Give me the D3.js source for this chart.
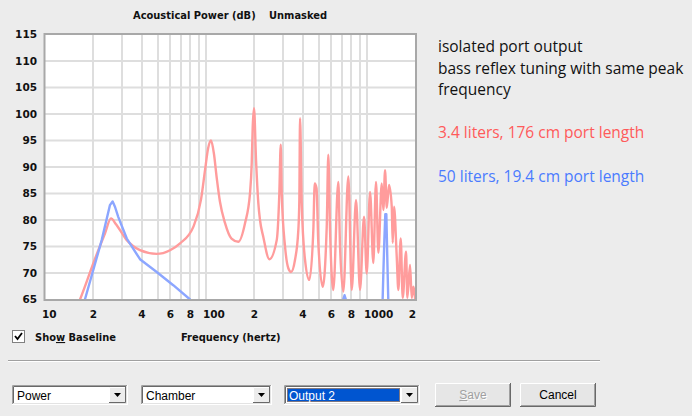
<!DOCTYPE html>
<html><head><meta charset="utf-8">
<script src="https://cdn.jsdelivr.net/npm/d3@7"></script>
<style>
html,body{margin:0;padding:0;background:#ececec;}
svg{display:block;}
.tk{font-family:"DejaVu Sans";font-weight:bold;font-size:10.5px;fill:#111;}
.lb{font-family:"DejaVu Sans Condensed","DejaVu Sans";font-stretch:condensed;font-weight:bold;font-size:11px;fill:#111;}
.lg{font-family:"Open Sans","Noto Sans";font-size:15.5px;}
.ui{font-family:"Liberation Sans",Arial;font-size:12px;fill:#000;}
</style></head>
<body>
<script>
// ---- data ----
const redFreq = [15.5,16.5,20.4,23.6,25.7,27.6,32.2,38.9,49.4,59.8,69,83.4,93,98.6,103,107.4,112,116.5,122,131,144,158.7,174.7,187.7,192.3,195,198.7,204.5,211.3,216.4,226.9,247.4,274.9,285.3,291.1,295.3,309.6,324.5,337.3,357.1,374.4,379.8,383.7,393,412,438.2,464,473.4,485.7,498.4,530.6,561.9,574.8,589.1,617.5,663.3,679.7,712.5,765.3,803.5,854.4,904.5,958.1,995.7,1044,1094,1137,1176,1234,1263,1294,1326,1370,1424,1444,1472,1529,1565,1619,1666,1747,1780,1850,1895,1939,1987,2000];
const redDb   = [63,65,72.6,77.5,80.3,79.2,76.2,74.3,73.6,74.3,75.6,78.7,83.8,89.4,93.5,95,92.5,88,83.5,79.5,76.5,75.9,79.4,85.1,90.8,97.6,101.1,91.3,83.2,80,76.8,72.6,76.2,85,94.2,85,75,70.9,70.2,72.5,78.1,83.8,99.2,83.2,72.5,68.7,78.1,86.9,86,75.6,67.4,78.7,92.3,78.1,66.8,87.2,75,66.5,88.2,66.8,83.8,66.8,80.6,69.9,85.3,71.9,87.2,73.8,86.9,81.9,89.4,82.3,86.6,82.5,75.7,82.5,73.1,66.8,76.5,65.3,74,65.3,71.5,65.3,67.4,65.3,64];
const blueFreq = [16.8,17.7,22.5,25.3,26.3,27.2,28.5,32.2,38.9,49.4,62.6,79.6,84,690,704,725,746,760,1240,1249,1266,1281,1299,1318,1337,1356,1370];
const blueDb   = [63,65,76.2,82.8,83.5,82.5,80.6,76.5,72.6,70.2,67.7,65,64,60,64.6,65.8,64.6,60,60,64.6,71.1,76.2,81.1,81.1,72.5,64.6,60];
const yTicks = [65,70,75,80,85,90,95,100,105,110,115];
const xGrid = [20,30,40,50,60,70,80,90,100,200,300,400,500,600,700,800,900,1000];
const xTickVals = [10,20,40,60,80,100,200,400,600,800,1000,2000];
const xTickLabels = ["10","2","4","6","8","100","2","4","6","8","1000","2"];
const title = ["Acoustical Power (dB)","Unmasked"];
const legendLines = ["isolated port output","bass reflex tuning with same peak","frequency"];
const seriesNames = ["3.4 liters, 176 cm port length","50 liters, 19.4 cm port length"];

const W=692,H=416;
const svg=d3.select("body").append("svg").attr("width",W).attr("height",H);
svg.append("rect").attr("width",W).attr("height",H).attr("fill","#ececec");

const L=45,R=415.5,T=34.5,B=299.5;
const x=d3.scaleLog().domain([10,2000]).range([L,R]);
const y=d3.scaleLinear().domain([65,115]).range([B,T]);

svg.append("rect").attr("x",L).attr("y",T).attr("width",R-L).attr("height",B-T).attr("fill","#fff");
svg.append("defs").append("clipPath").attr("id","clip").append("rect")
  .attr("x",L).attr("y",T).attr("width",R-L).attr("height",B-T);

const g=svg.append("g");
g.selectAll(".vg").data(xGrid).enter().append("line")
  .attr("x1",d=>Math.round(x(d))).attr("x2",d=>Math.round(x(d)))
  .attr("y1",T).attr("y2",B).attr("stroke","#dedede").attr("stroke-width",2);
g.selectAll(".hg").data(yTicks.slice(1,-1)).enter().append("line")
  .attr("x1",L).attr("x2",R).attr("y1",d=>y(d)).attr("y2",d=>y(d))
  .attr("stroke","#dedede").attr("stroke-width",2);

const red=redFreq.map((f,i)=>[f,redDb[i]]);
const blue=blueFreq.map((f,i)=>[f,blueDb[i]]);
const lineM=d3.line().x(d=>x(d[0])).y(d=>y(d[1])).curve(d3.curveMonotoneX);
const lineL=d3.line().x(d=>x(d[0])).y(d=>y(d[1]));
const cg=svg.append("g").attr("clip-path","url(#clip)");
cg.append("path").attr("d",lineM(red)).attr("fill","none").attr("stroke","#ff9c9c").attr("stroke-width",2.4).attr("stroke-linejoin","round");
cg.append("path").attr("d",lineL(blue)).attr("fill","none").attr("stroke","#8ca6ff").attr("stroke-width",2.4).attr("stroke-linejoin","round");

// border
svg.append("rect").attr("x",L-0.5).attr("y",T-0.5).attr("width",R-L+1).attr("height",B-T+1)
  .attr("fill","none").attr("stroke","#a8a8a8").attr("stroke-width",2);

// y ticks
svg.selectAll(".yt").data(yTicks).enter().append("text").attr("class","tk")
  .attr("x",37).attr("y",d=>y(d)).attr("dy","0.36em").attr("text-anchor","end").text(d=>d);
// x ticks
svg.selectAll(".xt").data(xTickVals).enter().append("text").attr("class","tk")
  .attr("x",(d,i)=> { const s=xTickLabels[i]; if(i===xTickVals.length-1) return x(d)+0.5; return s.length>1? x(d)-3 : x(d);})
  .attr("y",317.5)
  .attr("text-anchor",(d,i)=> i===xTickVals.length-1?"end":(xTickLabels[i].length>1?"start":"middle"))
  .text((d,i)=>xTickLabels[i]);

// title
svg.append("text").attr("class","lb").attr("x",133).attr("y",19).text(title[0]);
svg.append("text").attr("class","lb").attr("x",269).attr("y",19).text(title[1]);

// checkbox + labels
svg.append("rect").attr("x",12.5).attr("y",330.5).attr("width",12).attr("height",12).attr("fill","#fff").attr("stroke","#808080");
svg.append("path").attr("d","M15,336 L17.5,339 L22,333").attr("fill","none").attr("stroke","#000").attr("stroke-width",1.8);
const sb=svg.append("text").attr("class","lb").attr("x",35).attr("y",341);
sb.append("tspan").text("Sho");
sb.append("tspan").attr("text-decoration","underline").text("w");
sb.append("tspan").text(" Baseline");
svg.append("text").attr("class","lb").attr("x",181).attr("y",341).text("Frequency (hertz)");

// legend
legendLines.forEach((t,i)=>svg.append("text").attr("class","lg").attr("x",438).attr("y",52+i*21.5).attr("fill","#111").text(t));
svg.append("text").attr("class","lg").attr("x",438).attr("y",138).attr("fill","#ff5a5a").text(seriesNames[0]);
svg.append("text").attr("class","lg").attr("x",438).attr("y",182).attr("fill","#4a7bff").text(seriesNames[1]);

// separator
svg.append("line").attr("x1",8).attr("x2",600).attr("y1",360.5).attr("y2",360.5).attr("stroke","#a0a0a0");
svg.append("line").attr("x1",8).attr("x2",600).attr("y1",361.5).attr("y2",361.5).attr("stroke","#fff");

// combo boxes
function combo(x0,x1,label,selected){
  const y0=385,y1=405;
  svg.append("rect").attr("x",x0).attr("y",y0).attr("width",x1-x0).attr("height",y1-y0).attr("fill","#fff");
  svg.append("path").attr("d",`M${x0+0.5},${y1} V${y0+0.5} H${x1}`).attr("fill","none").attr("stroke","#a0a0a0");
  svg.append("path").attr("d",`M${x0+1.5},${y1-1} V${y0+1.5} H${x1-1}`).attr("fill","none").attr("stroke","#696969");
  svg.append("path").attr("d",`M${x0},${y1-0.5} H${x1-0.5} V${y0}`).attr("fill","none").attr("stroke","#fff");
  svg.append("path").attr("d",`M${x0+1},${y1-1.5} H${x1-1.5} V${y0+1}`).attr("fill","none").attr("stroke","#e3e3e3");
  const bx=x1-19;
  svg.append("rect").attr("x",bx).attr("y",y0+2).attr("width",17).attr("height",16).attr("fill","#ececec");
  svg.append("path").attr("d",`M${bx+0.5},${y0+18} V${y0+2.5} H${bx+17}`).attr("fill","none").attr("stroke","#fff");
  svg.append("path").attr("d",`M${bx},${y0+17.5} H${bx+16.5} V${y0+2}`).attr("fill","none").attr("stroke","#696969");
  svg.append("path").attr("d",`M${bx+5},${y0+8} h7 l-3.5,4 z`).attr("fill","#000");
  if(selected){
    svg.append("rect").attr("x",x0+3).attr("y",y0+3).attr("width",bx-x0-4).attr("height",14).attr("fill","#0055d0");
    svg.append("rect").attr("x",x0+3.5).attr("y",y0+3.5).attr("width",bx-x0-5).attr("height",13).attr("fill","none").attr("stroke","#ff9a30").attr("stroke-dasharray","1,1");
  }
  svg.append("text").attr("class","ui").attr("x",x0+5).attr("y",y0+15).style("fill",selected?"#fff":"#000").text(label);
}
combo(12,128,"Power",false);
combo(141,272,"Chamber",false);
combo(284,420,"Output 2",true);

function button(x0,x1,label,disabled){
  const y0=383,y1=407;
  svg.append("rect").attr("x",x0).attr("y",y0).attr("width",x1-x0).attr("height",y1-y0).attr("fill","#e6e6e6");
  svg.append("path").attr("d",`M${x0+0.5},${y1} V${y0+0.5} H${x1}`).attr("fill","none").attr("stroke","#fff");
  svg.append("path").attr("d",`M${x0},${y1-0.5} H${x1-0.5} V${y0}`).attr("fill","none").attr("stroke","#696969");
  svg.append("path").attr("d",`M${x0+1},${y1-1.5} H${x1-1.5} V${y0+1}`).attr("fill","none").attr("stroke","#a0a0a0");
  const cx=(x0+x1)/2;
  if(disabled){
    const t=svg.append("text").attr("class","ui").attr("x",cx+1).attr("y",400).attr("text-anchor","middle").style("fill","#fff");
    t.append("tspan").attr("text-decoration","underline").text(label[0]); t.append("tspan").text(label.slice(1));
    const t2=svg.append("text").attr("class","ui").attr("x",cx).attr("y",399).attr("text-anchor","middle").style("fill","#a0a0a0");
    t2.append("tspan").attr("text-decoration","underline").text(label[0]); t2.append("tspan").text(label.slice(1));
  } else {
    svg.append("text").attr("class","ui").attr("x",cx).attr("y",399).attr("text-anchor","middle").text(label);
  }
}
button(435,511,"Save",true);
button(520,596,"Cancel",false);
</script>
</body></html>
